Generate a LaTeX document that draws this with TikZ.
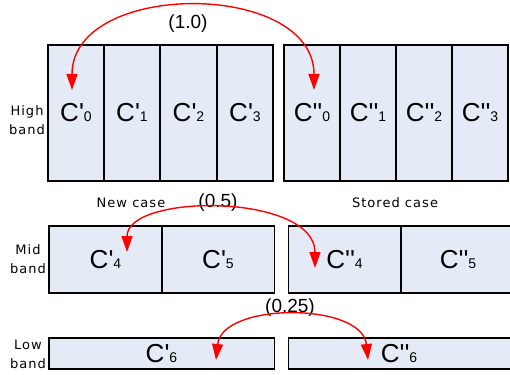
\documentclass[tikz,border=0pt]{standalone}
\usepackage{fontspec}
\setmainfont{Liberation Sans}[Ligatures=TeXOff]
\newfontfamily\lblfont{DejaVu Sans}[LetterSpace=8]
\usetikzlibrary{arrows.meta}
\definecolor{cellfill}{HTML}{E5EBF6}
\tikzset{
  cellbox/.style={draw=black, fill=cellfill, line width=1.5pt},
  divider/.style={draw=black, line width=1.5pt},
  celltext/.style={font=\fontsize{26}{28}\selectfont, inner sep=0pt},
  bandlbl/.style={font=\lblfont\fontsize{13}{19}\selectfont, align=center, inner sep=0pt},
  caselbl/.style={font=\lblfont\fontsize{13}{15}\selectfont, inner sep=0pt},
  wlbl/.style={font=\fontsize{19}{21}\selectfont, inner sep=0pt},
  swap/.style={draw=red, line width=1.4pt, {Triangle[length=16pt,width=11pt]}-{Triangle[length=16pt,width=11pt]}}
}
\newcommand{\cp}[1]{C\symbol{39}{\fontsize{14}{15}\selectfont #1}}
\newcommand{\cpp}[1]{C\symbol{39}\symbol{39}{\fontsize{14}{15}\selectfont #1}}
\begin{document}
\begin{tikzpicture}[x=1pt,y=-1pt]
\useasboundingbox (0,0) rectangle (510,374);
\clip (0,0) rectangle (510,374);
% High band
\draw[cellbox] (48,45) rectangle (273,181);
\draw[cellbox] (284,45) rectangle (508,181);
\foreach \x in {104,160,217,340,396,452}{
  \draw[divider] (\x,45) -- (\x,181);
}
\node[celltext] (h0) at (76,113) {\cp{0}};
\node[celltext] (h1) at (132,113) {\cp{1}};
\node[celltext] (h2) at (188.5,113) {\cp{2}};
\node[celltext] (h3) at (245,113) {\cp{3}};
\node[celltext] (s0) at (312,113) {\cpp{0}};
\node[celltext] (s1) at (368,113) {\cpp{1}};
\node[celltext] (s2) at (424,113) {\cpp{2}};
\node[celltext] (s3) at (480,113) {\cpp{3}};
% Mid band
\draw[cellbox] (49,226) rectangle (274.5,293);
\draw[cellbox] (288.5,226) rectangle (515,293);
\draw[divider] (162,226) -- (162,293);
\draw[divider] (401,226) -- (401,293);
\node[celltext] (h4) at (105.5,260) {\cp{4}};
\node[celltext] (h5) at (218,260) {\cp{5}};
\node[celltext] (s4) at (344.5,260) {\cpp{4}};
\node[celltext] (s5) at (458,260) {\cpp{5}};
% Low band
\draw[cellbox] (49,338) rectangle (274.5,369);
\draw[cellbox] (288.5,338) rectangle (515,369);
\node[celltext] (h6) at (161.5,354) {\cp{6}};
\node[celltext] (s6) at (399,354) {\cpp{6}};
% labels
\node[bandlbl] (lh) at (27,120) {High\\band};
\node[bandlbl] (lm) at (28,259) {Mid\\band};
\node[bandlbl] (ll) at (28,354) {Low\\band};
\node[caselbl] (nc) at (131,203) {New case};
\node[caselbl] (sc) at (395,203) {Stored case};
\node[wlbl] (w1) at (188,24) {(1.0)};
\node[wlbl] (w2) at (218,203) {(0.5)};
\node[wlbl] (w3) at (290,308) {(0.25)};
% arrow endpoints
\coordinate (a0) at (72,90);
\coordinate (b0) at (314,90);
\coordinate (a4) at (127,252);
\coordinate (b4) at (315,268);
\coordinate (a6) at (216,360);
\coordinate (b6) at (368,360);
\draw[swap] (a0) .. controls (72,-20) and (314,-20) .. (b0);
\draw[swap] (a4) .. controls (127,193) and (315,193) .. (b4);
\draw[swap] (a6) .. controls (222,302) and (362,302) .. (b6);
\end{tikzpicture}
\end{document}
